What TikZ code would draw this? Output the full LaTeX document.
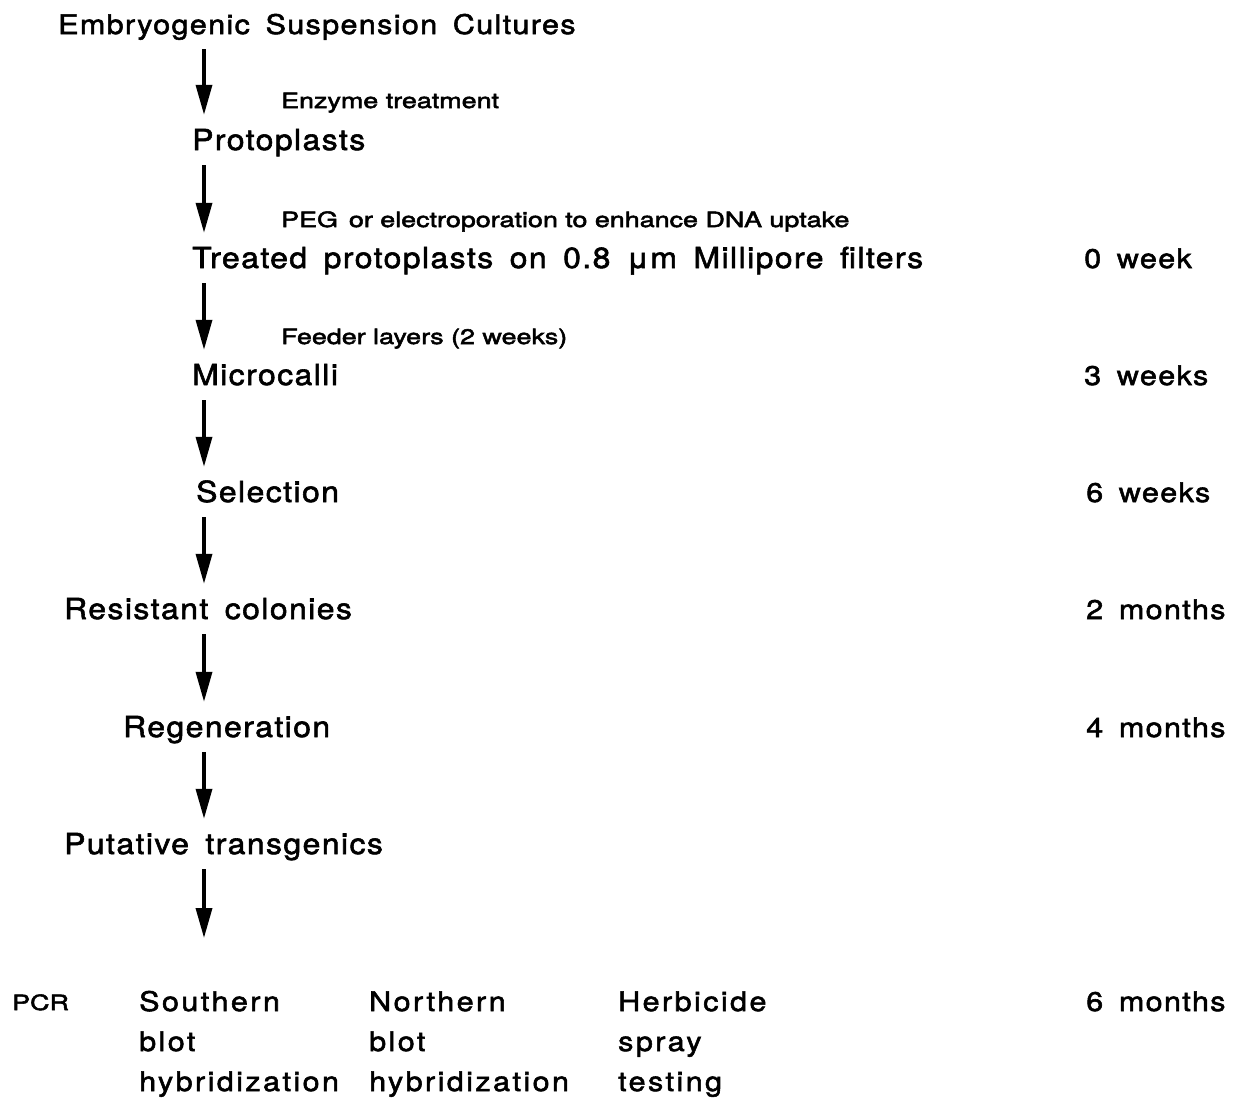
\documentclass[tikz,border=0pt]{standalone}
\usepackage{fontspec}
\usetikzlibrary{arrows.meta}
\newfontfamily\stagefont[FakeStretch=1.1,LetterSpace=5.0,WordSpace=1.6,FakeBold=2]{TeX Gyre Heros}
\newfontfamily\rowfont[FakeStretch=1.13,LetterSpace=5.0,WordSpace=1.6,FakeBold=2]{TeX Gyre Heros}
\newfontfamily\testfont[FakeStretch=1.13,LetterSpace=9.0,WordSpace=1.6,FakeBold=2]{TeX Gyre Heros}
\newfontfamily\notefont[FakeStretch=1.28,FakeBold=2.5]{TeX Gyre Heros}
\begin{document}
\begin{tikzpicture}[x=1pt, y=-1pt,
    stage/.style={anchor=base west, inner sep=0pt, text height=22pt, text depth=7pt,
        font=\stagefont\fontsize{29}{34}\selectfont},
    rowtext/.style={anchor=base west, inner sep=0pt, align=left,
        font=\rowfont\fontsize{27}{40}\selectfont},
    note/.style={anchor=base west, inner sep=0pt, font=\notefont\fontsize{21}{25}\selectfont},
    flow/.style={line width=3.5pt, -{Triangle[length=30pt,width=16pt]}, shorten <=8pt, shorten >=13pt}]
    \useasboundingbox (0,0) rectangle (1241,1104);
    \coordinate (col) at (204,0);
    \node[stage, font=\rowfont\fontsize{27}{34}\selectfont] (embryo) at (58,34) {Embryogenic Suspension Cultures};
    \node[note] (enzyme) at (281,108) {Enzyme treatment};
    \node[stage] (proto) at (192,150) {Protoplasts};
    \node[note] (peg) at (281,227) {PEG\, or electroporation to enhance DNA uptake};
    \node[stage] (treated) at (192,268) {Treated protoplasts on 0.8 μm Millipore filters};
    \node[note] (feeder) at (281,344) {Feeder layers (2 weeks)};
    \node[stage] (micro) at (192,385) {Microcalli};
    \node[stage] (select) at (196,502) {Selection};
    \node[stage] (resist) at (64,619) {Resistant colonies};
    \node[stage] (regen) at (123,737) {Regeneration};
    \node[stage] (putative) at (64,854) {Putative transgenics};
    \coordinate (tests) at (204,938);
    \node[note] (pcr) at (12,1010) {PCR};
    \node[rowtext, font=\testfont\fontsize{27}{40}\selectfont] (southern) at (139,1091) {Southern\\blot\\hybridization};
    \node[rowtext, font=\testfont\fontsize{27}{40}\selectfont] (northern) at (369,1091) {Northern\\blot\\hybridization};
    \node[rowtext, font=\testfont\fontsize{27}{40}\selectfont] (herbicide) at (618,1091) {Herbicide\\spray\\testing};
    \node[rowtext] (t0) at (1084,268) {0 week};
    \node[rowtext] (t3) at (1084,385) {3 weeks};
    \node[rowtext] (t6) at (1086,502) {6 weeks};
    \node[rowtext] (m2) at (1086,619) {2 months};
    \node[rowtext] (m4) at (1086,737) {4 months};
    \node[rowtext] (m6) at (1086,1011) {6 months};
    \draw[flow] (embryo.south -| col) -- (proto.north -| col);
    \draw[flow] (proto.south -| col) -- (treated.north -| col);
    \draw[flow] (treated.south -| col) -- (micro.north -| col);
    \draw[flow] (micro.south -| col) -- (select.north -| col);
    \draw[flow] (select.south -| col) -- (resist.north -| col);
    \draw[flow] (resist.south -| col) -- (regen.north -| col);
    \draw[flow] (regen.south -| col) -- (putative.north -| col);
    \draw[flow, shorten >=0pt] (putative.south -| col) -- (tests);
\end{tikzpicture}
\end{document}
